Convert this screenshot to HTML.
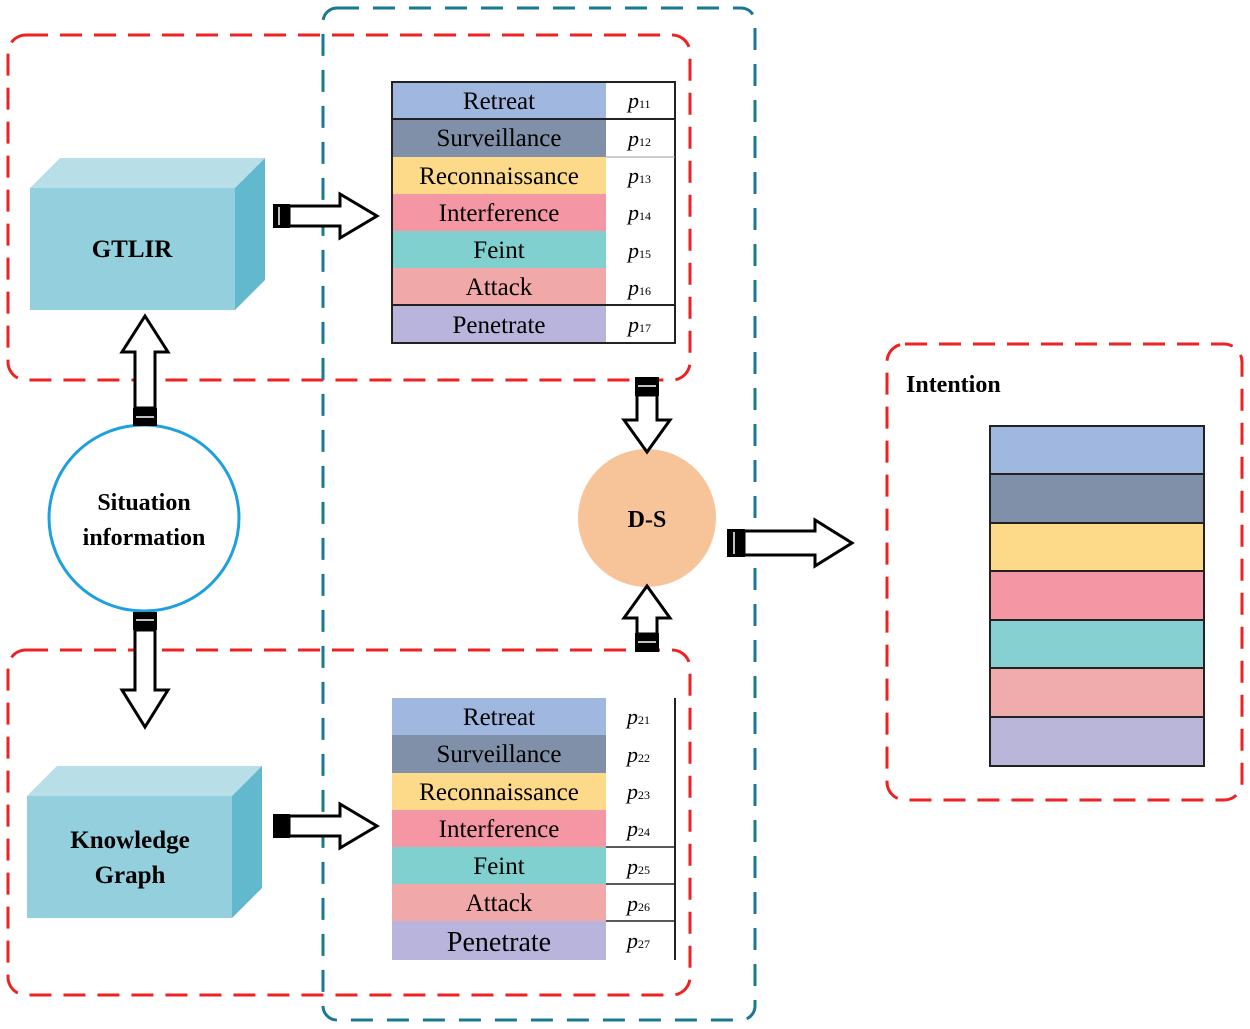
<!DOCTYPE html>
<html><head><meta charset="utf-8"><style>
html,body{margin:0;padding:0;background:#fff;}
svg{display:block;}
svg text{font-family:"Liberation Serif","DejaVu Serif",serif;}
</style></head><body>
<svg width="1250" height="1029" viewBox="0 0 1250 1029" xmlns="http://www.w3.org/2000/svg">
<rect x="8" y="35" width="682" height="345" rx="18" fill="none" stroke="#ee2222" stroke-width="3" stroke-dasharray="22,12"/>
<rect x="8" y="650" width="682" height="345" rx="18" fill="none" stroke="#ee2222" stroke-width="3" stroke-dasharray="22,12"/>
<rect x="323" y="8" width="432" height="1012" rx="14" fill="none" stroke="#1a7890" stroke-width="3" stroke-dasharray="22,14"/>
<rect x="887" y="344" width="355" height="456" rx="18" fill="none" stroke="#ee2222" stroke-width="3" stroke-dasharray="22,12"/>

<polygon points="30,188 60,158 265,158 235,188" fill="#b8dfe8"/>
<polygon points="235,188 265,158 265,280 235,310" fill="#62b8cc"/>
<rect x="30" y="188" width="205" height="122" fill="#93cfdc"/>
<text x="132" y="257" text-anchor="middle" font-size="25" font-weight="bold">GTLIR</text>

<polygon points="27,796 57,766 262,766 232,796" fill="#b8dfe8"/>
<polygon points="232,796 262,766 262,888 232,918" fill="#62b8cc"/>
<rect x="27" y="796" width="205" height="122" fill="#93cfdc"/>
<text x="130" y="848" text-anchor="middle" font-size="25" font-weight="bold">Knowledge</text>
<text x="130" y="883" text-anchor="middle" font-size="25" font-weight="bold">Graph</text>

<ellipse cx="144" cy="518" rx="95" ry="93" fill="#fff" stroke="#1ea0e0" stroke-width="3"/>
<text x="144" y="510" text-anchor="middle" font-size="24" font-weight="bold">Situation</text>
<text x="144" y="545" text-anchor="middle" font-size="24" font-weight="bold">information</text>

<circle cx="647" cy="518" r="69" fill="#f7c49a"/>
<text x="647" y="527" text-anchor="middle" font-size="24" font-weight="bold">D-S</text>

<g font-size="25">
<g>
<rect x="392" y="82" width="214" height="37" fill="#a0b8e0"/>
<rect x="392" y="119" width="214" height="38" fill="#8090a8"/>
<rect x="392" y="157" width="214" height="37" fill="#fdd98a"/>
<rect x="392" y="194" width="214" height="37" fill="#f496a4"/>
<rect x="392" y="231" width="214" height="37" fill="#80d0d0"/>
<rect x="392" y="268" width="214" height="37" fill="#f0a8a8"/>
<rect x="392" y="305" width="214" height="38" fill="#b8b4dc"/>
<rect x="392" y="82" width="283" height="261" fill="none" stroke="#222" stroke-width="2"/>
<line x1="392" y1="119" x2="675" y2="119" stroke="#222" stroke-width="2"/>
<line x1="606" y1="157" x2="675" y2="157" stroke="#999" stroke-width="1"/>
<line x1="392" y1="305" x2="675" y2="305" stroke="#222" stroke-width="2"/>
<text x="499" y="109" text-anchor="middle">Retreat</text>
<text x="499" y="146" text-anchor="middle">Surveillance</text>
<text x="499" y="184" text-anchor="middle">Reconnaissance</text>
<text x="499" y="221" text-anchor="middle">Interference</text>
<text x="499" y="258" text-anchor="middle">Feint</text>
<text x="499" y="295" text-anchor="middle">Attack</text>
<text x="499" y="333" text-anchor="middle">Penetrate</text>
<g font-style="italic" font-size="22">
<text x="628" y="108">p<tspan font-size="12" font-style="normal">11</tspan></text>
<text x="628" y="146">p<tspan font-size="12" font-style="normal">12</tspan></text>
<text x="628" y="183">p<tspan font-size="12" font-style="normal">13</tspan></text>
<text x="628" y="220">p<tspan font-size="12" font-style="normal">14</tspan></text>
<text x="628" y="258">p<tspan font-size="12" font-style="normal">15</tspan></text>
<text x="628" y="295">p<tspan font-size="12" font-style="normal">16</tspan></text>
<text x="628" y="332">p<tspan font-size="12" font-style="normal">17</tspan></text>
</g>
</g>
<g>
<rect x="392" y="698" width="214" height="37" fill="#a0b8e0"/>
<rect x="392" y="735" width="214" height="38" fill="#8090a8"/>
<rect x="392" y="773" width="214" height="37" fill="#fdd98a"/>
<rect x="392" y="810" width="214" height="37" fill="#f496a4"/>
<rect x="392" y="847" width="214" height="37" fill="#80d0d0"/>
<rect x="392" y="884" width="214" height="37" fill="#f0a8a8"/>
<rect x="392" y="921" width="214" height="39" fill="#b8b4dc"/>
<line x1="675" y1="698" x2="675" y2="960" stroke="#222" stroke-width="2"/>
<line x1="606" y1="847" x2="675" y2="847" stroke="#222" stroke-width="1.5"/>
<line x1="606" y1="884" x2="675" y2="884" stroke="#222" stroke-width="1.5"/>
<line x1="606" y1="921" x2="675" y2="921" stroke="#222" stroke-width="1.5"/>
<text x="499" y="725" text-anchor="middle">Retreat</text>
<text x="499" y="762" text-anchor="middle">Surveillance</text>
<text x="499" y="800" text-anchor="middle">Reconnaissance</text>
<text x="499" y="837" text-anchor="middle">Interference</text>
<text x="499" y="874" text-anchor="middle">Feint</text>
<text x="499" y="911" text-anchor="middle">Attack</text>
<text x="499" y="951" text-anchor="middle" font-size="28">Penetrate</text>
<g font-style="italic" font-size="22">
<text x="627" y="724">p<tspan font-size="12" font-style="normal">21</tspan></text>
<text x="627" y="762">p<tspan font-size="12" font-style="normal">22</tspan></text>
<text x="627" y="799">p<tspan font-size="12" font-style="normal">23</tspan></text>
<text x="627" y="836">p<tspan font-size="12" font-style="normal">24</tspan></text>
<text x="627" y="874">p<tspan font-size="12" font-style="normal">25</tspan></text>
<text x="627" y="911">p<tspan font-size="12" font-style="normal">26</tspan></text>
<text x="627" y="948">p<tspan font-size="12" font-style="normal">27</tspan></text>
</g>
</g>
</g>

<text x="906" y="392" font-size="24" font-weight="bold">Intention</text>
<g stroke="#222" stroke-width="2">
<rect x="990" y="426" width="214" height="48" fill="#a0b8e0"/>
<rect x="990" y="474" width="214" height="49" fill="#8090a8"/>
<rect x="990" y="523" width="214" height="48" fill="#fdd98a"/>
<rect x="990" y="571" width="214" height="49" fill="#f496a4"/>
<rect x="990" y="620" width="214" height="48" fill="#86d0d2"/>
<rect x="990" y="668" width="214" height="49" fill="#f0acac"/>
<rect x="990" y="717" width="214" height="49" fill="#bab6da"/>
</g>

<g fill="#fff" stroke="#000" stroke-width="3" stroke-linejoin="miter">
<polygon points="289,206 340,206 340,194 377,216 340,238 340,226 289,226"/>
<polygon points="289,816 340,816 340,804 377,826 340,848 340,836 289,836"/>
<polygon points="135,408 135,352 122,352 145,316 168,352 155,352 155,408"/>
<polygon points="135,630 135,690 122,690 145,727 168,690 155,690 155,630"/>
<polygon points="637,395 637,420 624,420 647,452 670,420 657,420 657,395"/>
<polygon points="637,634 637,618 624,618 647,586 670,618 657,618 657,634"/>
<polygon points="744,531 815,531 815,520 852,543 815,566 815,555 744,555"/>
</g>
<g fill="#000">
<rect x="273" y="204" width="17" height="24"/>
<rect x="273" y="814" width="17" height="24"/>
<rect x="133" y="408" width="24" height="18"/>
<rect x="133" y="612" width="24" height="18"/>
<rect x="635" y="377" width="24" height="19"/>
<rect x="635" y="633" width="24" height="19"/>
<rect x="727" y="529" width="18" height="28"/>
</g>
<g stroke="#fff" stroke-width="1.5">
<line x1="279" y1="207" x2="279" y2="225"/>
<line x1="136" y1="417" x2="154" y2="417"/>
<line x1="136" y1="620" x2="154" y2="620"/>
<line x1="638" y1="386" x2="656" y2="386"/>
<line x1="638" y1="642" x2="656" y2="642"/>
<line x1="734" y1="532" x2="734" y2="554"/>
</g>
</svg>
</body></html>
